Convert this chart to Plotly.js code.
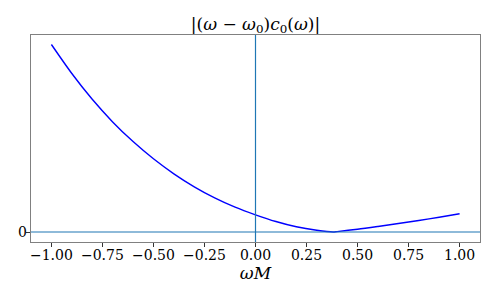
<!DOCTYPE html>
<html>
<head>
<meta charset="utf-8">
<script src="https://cdn.plot.ly/plotly-3.0.1.min.js"></script>
<style>html,body{margin:0;padding:0;background:#fff;}#chart{width:498px;height:299px;}</style>
</head>
<body>
<div id="chart"></div>
<script>
const omega = [-1.0, -0.9, -0.8, -0.7, -0.6, -0.5, -0.4, -0.3, -0.2, -0.1, 0.0, 0.1, 0.2, 0.3, 0.38, 0.4, 0.5, 0.6, 0.7, 0.8, 0.9, 1.0];
const absValue = [1.875, 1.585, 1.327, 1.101, 0.904, 0.732, 0.582, 0.452, 0.341, 0.248, 0.172, 0.105, 0.052, 0.017, 0.0, 0.004, 0.027, 0.055, 0.085, 0.115, 0.147, 0.182];
const xTickVals = [-1.0, -0.75, -0.5, -0.25, 0.0, 0.25, 0.5, 0.75, 1.0];
const xTickText = ["\u22121.00", "\u22120.75", "\u22120.50", "\u22120.25", "0.00", "0.25", "0.50", "0.75", "1.00"];
const yTickVals = [0];
const yTickText = ["0"];

const font = {family: "DejaVu Serif", size: 14, color: "#000"};
const axisCommon = {
  showgrid: false, zeroline: false, showline: true, mirror: true,
  linecolor: "#808080", linewidth: 1.2,
  ticks: "outside", ticklen: 4, tickwidth: 1, tickcolor: "#333",
  tickfont: font, ticklabelstandoff: -4
};

Plotly.newPlot("chart", [{
  x: omega, y: absValue, mode: "lines", type: "scatter",
  line: {color: "#0000ff", width: 1.4, shape: "spline", smoothing: 0.8}, hoverinfo: "skip"
}], {
  width: 498, height: 299,
  margin: {l: 31, r: 18, t: 35, b: 57},
  paper_bgcolor: "#fff", plot_bgcolor: "#fff",
  showlegend: false,
  title: {
    text: "|(<i>\u03c9</i> \u2212 <i>\u03c9</i><sub>0</sub>)<i>c</i><sub>0</sub>(<i>\u03c9</i>)|",
    font: {family: "DejaVu Serif", size: 17, color: "#000"},
    x: 0.5, xref: "paper", xanchor: "center",
    y: 0.94, yref: "container", yanchor: "top"
  },
  xaxis: Object.assign({}, axisCommon, {
    range: [-1.1, 1.1], tickvals: xTickVals, ticktext: xTickText,
    title: {text: "<i>\u03c9M</i>", font: {family: "DejaVu Serif", size: 17, color: "#000"}, standoff: 0}
  }),
  yaxis: Object.assign({}, axisCommon, {
    range: [-0.1, 1.97], tickvals: yTickVals, ticktext: yTickText
  }),
  shapes: [
    {type: "line", xref: "x", yref: "y domain", x0: 0, x1: 0, y0: 0, y1: 1, layer: "above", line: {color: "#1f77b4", width: 1.2}},
    {type: "line", xref: "x domain", yref: "y", x0: 0, x1: 1, y0: 0, y1: 0, layer: "above", line: {color: "#1f77b4", width: 1.2}}
  ]
}, {staticPlot: true, displayModeBar: false});
</script>
</body>
</html>
